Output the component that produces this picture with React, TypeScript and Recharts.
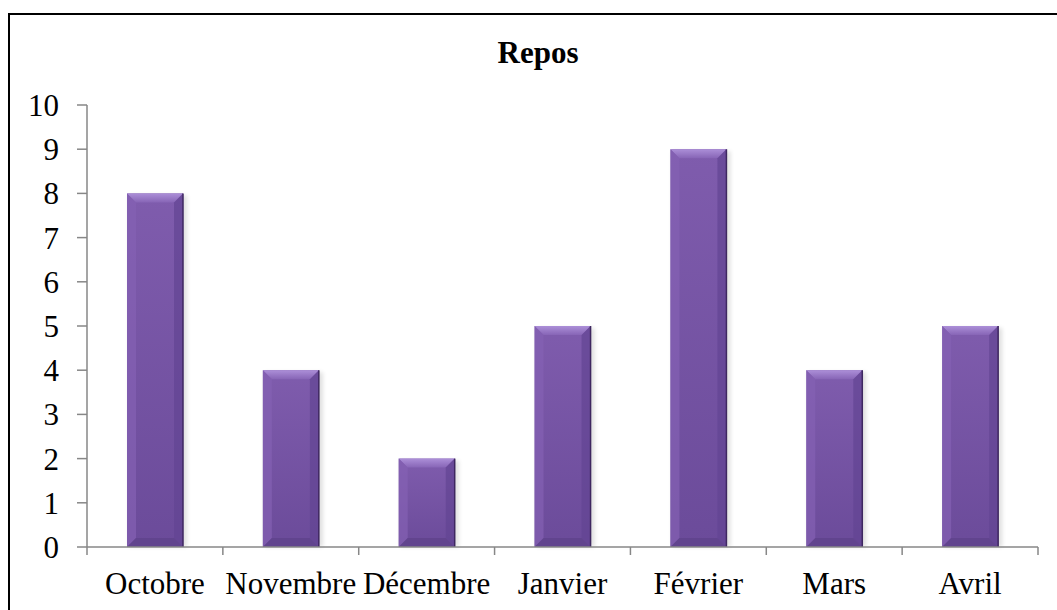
import React from "react";
import { BarChart, Bar, XAxis, YAxis } from "recharts";

const months = ["Octobre", "Novembre", "Décembre", "Janvier", "Février", "Mars", "Avril"];
const repos = [8, 4, 2, 5, 9, 4, 5];
const yTicks = [0, 1, 2, 3, 4, 5, 6, 7, 8, 9, 10];

const data = months.map((m, i) => ({ month: m, repos: repos[i] }));

const FONT = '"Liberation Serif", "Times New Roman", serif';
const W = 1057;
const H = 610;
const M = { top: 105, right: 19, left: 0, bottom: 0 };
const Y_W = 87;
const X_H = 63;
const BW = (W - M.right - Y_W) / months.length;
const TICK = 8;
const TMARGIN = 17;

const BevelBar = (props: any) => {
  const { x, y, width: w, height: h } = props;
  if (!h || h <= 0) return null;
  const b = Math.min(9, h / 2, w / 2);
  return (
    <g>
      <rect x={x + 2} y={y + 2} width={w + 2} height={h - 2} fill="#000" opacity={0.12} filter="url(#barShadow)" />
      <rect x={x} y={y} width={w} height={h} fill="url(#barBody)" />
      <polygon points={`${x},${y} ${x + w},${y} ${x + w - b},${y + b} ${x + b},${y + b}`} fill="url(#barTop)" />
      <polygon points={`${x},${y} ${x + b},${y + b} ${x + b},${y + h - b} ${x},${y + h}`} fill="#8461b3" opacity={0.7} />
      <polygon points={`${x + w},${y} ${x + w},${y + h} ${x + w - b},${y + h - b} ${x + w - b},${y + b}`} fill="#634493" opacity={0.7} />
      <polygon points={`${x},${y + h} ${x + b},${y + h - b} ${x + w - b},${y + h - b} ${x + w},${y + h}`} fill="#5f428b" opacity={0.8} />
      <line x1={x + w} y1={y} x2={x + w} y2={y + h} stroke="#3e2760" strokeWidth={1.5} />
    </g>
  );
};

const XTick = (props: any) => {
  const { x, y, payload, index } = props;
  const axisY = y - TICK - TMARGIN;
  return (
    <g>
      <line x1={x - BW / 2} y1={axisY} x2={x - BW / 2} y2={axisY + TICK} stroke="#878787" strokeWidth={1.5} />
      {index === months.length - 1 && (
        <line x1={x + BW / 2} y1={axisY} x2={x + BW / 2} y2={axisY + TICK} stroke="#878787" strokeWidth={1.5} />
      )}
      <text x={x} y={y} dy="0.71em" textAnchor="middle" fill="#000" fontSize={31} fontFamily={FONT}>
        {payload.value}
      </text>
    </g>
  );
};

export default function App() {
  return (
    <div style={{ position: "fixed", left: 0, top: 0, width: W, height: H, background: "#fff", overflow: "hidden" }}>
      <div
        style={{
          position: "absolute",
          left: 8,
          top: 13,
          width: W + 20,
          height: H + 20,
          borderTop: "2px solid #000",
          borderLeft: "2px solid #000",
          boxSizing: "border-box",
        }}
      />
      <div style={{ position: "absolute", left: 0, top: 0 }}>
        <BarChart width={W} height={H} data={data} margin={M} barSize={56}>
          <defs>
            <linearGradient id="barBody" x1="0" y1="0" x2="0" y2="1">
              <stop offset="0%" stopColor="#7f5cad" />
              <stop offset="100%" stopColor="#6b4b9a" />
            </linearGradient>
            <linearGradient id="barTop" x1="0" y1="0" x2="0" y2="1">
              <stop offset="0%" stopColor="#ac8fd8" />
              <stop offset="100%" stopColor="#8765b6" />
            </linearGradient>
            <filter id="barShadow" x="-20%" y="-20%" width="140%" height="140%">
              <feGaussianBlur stdDeviation="2" />
            </filter>
          </defs>
          <XAxis
            dataKey="month"
            height={X_H}
            interval={0}
            tickSize={TICK}
            tickMargin={TMARGIN}
            tickLine={false}
            axisLine={{ stroke: "#878787", strokeWidth: 1.5 }}
            tick={<XTick />}
          />
          <YAxis
            width={Y_W}
            domain={[0, 10]}
            ticks={yTicks}
            interval={0}
            tickSize={10}
            tickMargin={18}
            axisLine={{ stroke: "#878787", strokeWidth: 1.5 }}
            tickLine={{ stroke: "#878787", strokeWidth: 1.5 }}
            tick={{ fill: "#000", fontSize: 31, fontFamily: FONT }}
          />
          <Bar dataKey="repos" shape={<BevelBar />} isAnimationActive={false} />
        </BarChart>
      </div>
      <svg style={{ position: "absolute", left: 0, top: 0 }} width={W} height={100}>
        <text x={538} y={63} textAnchor="middle" fontSize={31} fontWeight="bold" fontFamily={FONT} fill="#000">
          Repos
        </text>
      </svg>
    </div>
  );
}
